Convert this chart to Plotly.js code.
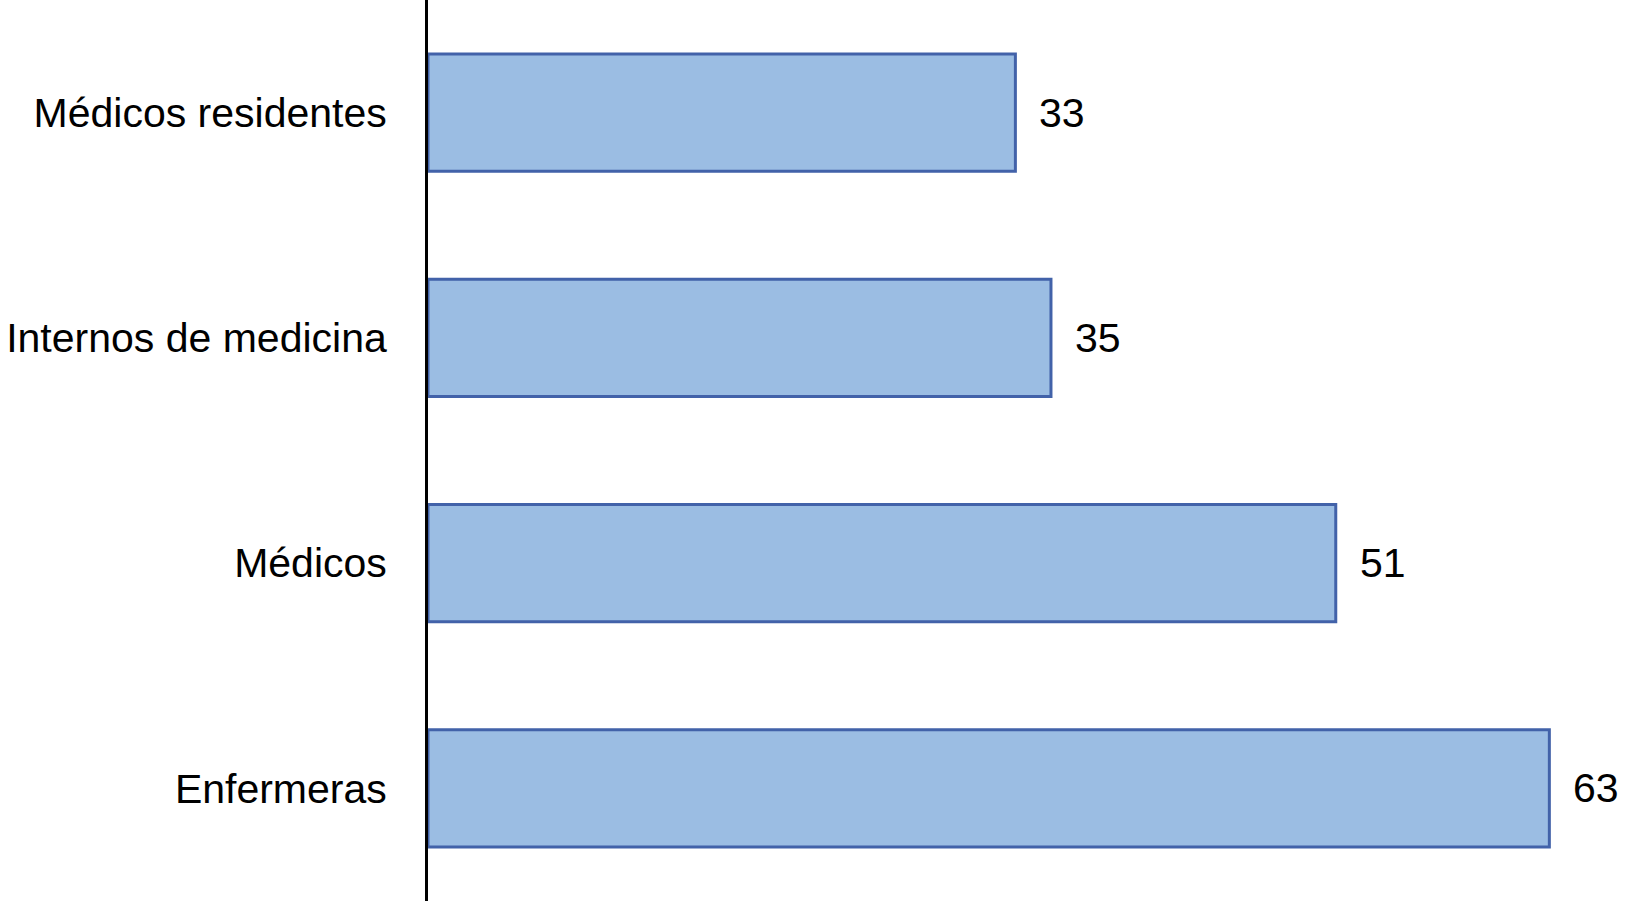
<!DOCTYPE html>
<html>
<head>
<meta charset="utf-8">
<script src="https://cdn.plot.ly/plotly-3.0.1.min.js"></script>
<style>html,body{margin:0;padding:0;background:#fff;}#chart{width:1625px;height:901px;}</style>
</head>
<body>
<div id="chart"></div>
<script>
const categories = ['Médicos residentes', 'Internos de medicina', 'Médicos', 'Enfermeras'];
const values = [33, 35, 51, 63];
const valueLabels = ['33', '35', '51', '63'];

const font = 'Liberation Sans, Arial, Helvetica, sans-serif';

const trace = {
  type: 'bar',
  orientation: 'h',
  y: categories,
  x: values,
  marker: { color: '#9BBDE3', line: { color: '#4262A9', width: 3 } },
  hoverinfo: 'skip'
};

const annotations = categories.map((c, i) => ({
  x: values[i], y: c, xref: 'x', yref: 'y',
  text: valueLabels[i], showarrow: false,
  xanchor: 'left', yanchor: 'middle', xshift: 22,
  font: { family: font, size: 41, color: '#000' }
}));

const layout = {
  width: 1625, height: 901,
  margin: { l: 428, r: 0, t: 0, b: 0, pad: 0 },
  paper_bgcolor: '#fff', plot_bgcolor: '#fff',
  showlegend: false,
  bargap: 0.48,
  xaxis: { range: [0, 67.25], showgrid: false, zeroline: false, showline: false, showticklabels: false, ticks: '' },
  yaxis: {
    autorange: 'reversed', showgrid: false, zeroline: false,
    showline: true, linecolor: '#000', linewidth: 3,
    ticks: '', ticklabelstandoff: 30,
    tickfont: { family: font, size: 41, color: '#000' }
  },
  annotations: annotations
};

Plotly.newPlot('chart', [trace], layout, { displayModeBar: false, staticPlot: true });
</script>
</body>
</html>
